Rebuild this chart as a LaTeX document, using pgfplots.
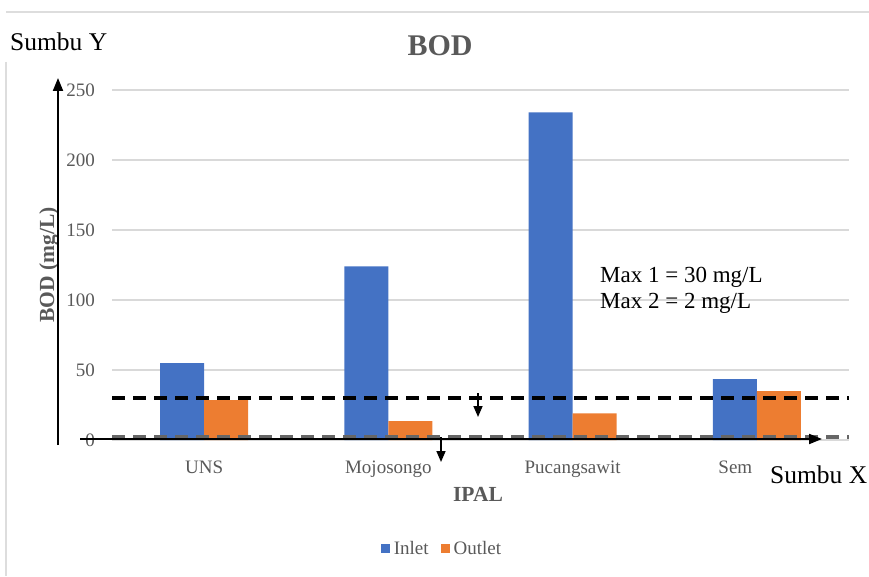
\documentclass[border=0pt]{standalone}
\usepackage{pgfplots}
\pgfplotsset{compat=1.18}
\usepackage{fontspec}
\setmainfont{Liberation Serif}
\usetikzlibrary{arrows.meta}

\definecolor{inblue}{HTML}{4472C4}
\definecolor{outorange}{HTML}{ED7D31}
\definecolor{gridgray}{HTML}{D9D9D9}
\definecolor{txtgray}{HTML}{595959}
\definecolor{limgray}{HTML}{666666}
\definecolor{framegray}{HTML}{DDDDDD}

\begin{document}
\begin{tikzpicture}[x=1pt,y=1pt]
\useasboundingbox (0,0) rectangle (869,576);

% chart frame
\draw[framegray, line width=1.5pt] (6,564) -- (869,564);
\draw[framegray, line width=1.5pt] (6,514) -- (6,0);

\begin{axis}[
  at={(112pt,136pt)}, anchor=south west,
  scale only axis, width=737pt, height=350pt,
  xmin=-0.5, xmax=3.5, ymin=0, ymax=250,
  ybar=0pt, bar width=44pt,
  axis line style={draw=none},
  major tick style={draw=none},
  ytick={0,50,100,150,200,250},
  ymajorgrids, grid style={gridgray, line width=1.2pt},
  xtick={0,1,2},
  xticklabels={UNS,Mojosongo,Pucangsawit},
  extra x ticks={3},
  extra x tick labels={Sem},
  extra x tick style={grid=none, xticklabel style={xshift=-21.5pt}},
  /pgf/number format/assume math mode=true,
  xticklabel style={anchor=base, yshift=-29pt, text=txtgray,
    font=\fontsize{19}{22}\selectfont},
  yticklabel style={anchor=east, inner sep=0pt, xshift=-17pt, text=txtgray,
    font=\fontsize{19}{22}\selectfont},
  clip=false,
  legend style={at={(0.449,-0.311)}, anchor=center, draw=none,
    legend columns=2, text=txtgray, font=\fontsize{19}{22}\selectfont,
    nodes={inner xsep=4pt},
    /tikz/every even column/.append style={column sep=8pt}},
  legend image code/.code={\path[#1,draw=none] (0pt,-4.5pt) rectangle (9pt,4.5pt);},
]
\addplot[fill=inblue, draw=none] coordinates {(0,55) (1,124) (2,234) (3,43.5)};
\addplot[fill=outorange, draw=none] coordinates {(0,28.5) (1,13.5) (2,19) (3,35)};
\legend{Inlet,Outlet}
% limits: Max 1 = 30 mg/L, Max 2 = 2 mg/L
\addplot[sharp plot, forget plot, black, line width=3.5pt, dash pattern=on 13pt off 8pt]
  coordinates {(-0.5,30) (3.5,30)};
\addplot[sharp plot, forget plot, limgray, line width=3.5pt, dash pattern=on 13pt off 8pt]
  coordinates {(-0.5,2) (3.5,2)};
\end{axis}

% title and axis titles
\node[anchor=base, text=txtgray, font=\fontsize{30}{34}\selectfont\bfseries] at (440,520) {BOD};
\node[anchor=base, text=txtgray, font=\fontsize{21.5}{24}\selectfont\bfseries] at (478,75) {IPAL};
\node[anchor=base, rotate=90, text=txtgray, font=\fontsize{21.5}{24}\selectfont\bfseries] at (54,311) {BOD (mg/L)};

% drawn axes
\draw[line width=2pt, -{Triangle[length=13pt,width=10pt]}] (58,131) -- (58,498);
\draw[line width=2pt, -{Triangle[length=13pt,width=10pt]}] (80,137) -- (822,137);
\draw[line width=1.6pt, -{Triangle[length=11pt,width=9pt]}] (478,183) -- (478,159);
\draw[line width=1.6pt, -{Triangle[length=11pt,width=9pt]}] (441,139) -- (441,114);

% text boxes
\node[anchor=base west, inner sep=0pt, font=\fontsize{25.5}{28}\selectfont] at (10,525) {Sumbu Y};
\node[anchor=base west, inner sep=0pt, font=\fontsize{25.5}{28}\selectfont] at (770,93) {Sumbu X};
\node[anchor=base west, inner sep=0pt, font=\fontsize{23}{26}\selectfont] at (600,293) {Max 1 = 30 mg/L};
\node[anchor=base west, inner sep=0pt, font=\fontsize{23}{26}\selectfont] at (600,267) {Max 2 = 2 mg/L};
\end{tikzpicture}
\end{document}
